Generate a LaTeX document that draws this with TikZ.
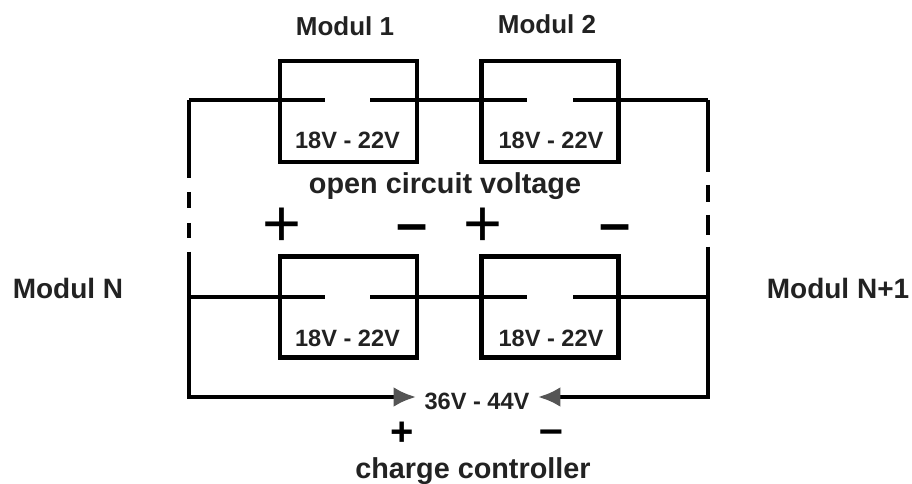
\documentclass[tikz,border=0pt]{standalone}
\usepackage{fontspec}
\setmainfont{Liberation Sans}
\usetikzlibrary{arrows.meta}
\definecolor{inktext}{HTML}{222222}
\definecolor{inkhead}{HTML}{555555}
\tikzset{
  modbox/.style={draw=black, line width=3.5pt, minimum width=102.75pt, minimum height=75.75pt, inner sep=0pt},
  wire/.style={draw=black, line width=3.3pt},
  title/.style={anchor=base, text=inktext, inner sep=0pt, font=\bfseries\fontsize{19.5}{20}\selectfont},
  sidetitle/.style={title, font=\bfseries\fontsize{21}{22}\selectfont},
  volt/.style={anchor=base, text=inktext, inner sep=0pt, font=\bfseries\fontsize{17.7}{18}\selectfont},
  note/.style={anchor=base, text=inktext, inner sep=0pt, font=\bfseries\fontsize{21.6}{22}\selectfont},
  bigsign/.style={anchor=base, text=black, inner sep=0pt, font=\bfseries\fontsize{#1}{#1}\selectfont},
  thinsign/.style={anchor=base, text=black, inner sep=0pt, font=\fontsize{#1}{#1}\selectfont},
  feed/.style={wire, -{Latex[length=17pt, width=15pt, color=inkhead]}}
}
\begin{document}
\begin{tikzpicture}[x=0.75pt, y=-0.75pt]
    \useasboundingbox (0,0) rectangle (912,484);
    % modules
    \node[modbox] (modA) at (348.5,111.5) {};
    \node[modbox] (modB) at (550,111.5) {};
    \node[modbox] (modC) at (348.5,307) {};
    \node[modbox] (modD) at (550,307) {};
    % terminals and corners
    \coordinate (railTL) at (189,100);
    \coordinate (railTR) at (708,100);
    \coordinate (railML) at (189,297);
    \coordinate (railMR) at (708,297);
    \coordinate (railSL) at (189,252);
    \coordinate (railSR) at (708,247);
    \coordinate (railBL) at (189,397);
    \coordinate (railBR) at (708,397);
    \coordinate (topA) at (325,100);
    \coordinate (topB) at (370,100);
    \coordinate (topC) at (527,100);
    \coordinate (topD) at (573,100);
    \coordinate (lowA) at (325,297);
    \coordinate (lowB) at (370,297);
    \coordinate (lowC) at (527,297);
    \coordinate (lowD) at (573,297);
    % labels
    \node[title] (nameA) at (345,36) {Modul 1};
    \node[title] (nameB) at (547,34) {Modul 2};
    \node[sidetitle] (nameC) at (68,298) {Modul N};
    \node[sidetitle] (nameD) at (838,298) {Modul N+1};
    \node[volt] (voltA) at (347.5,149) {18V - 22V};
    \node[volt] (voltB) at (551,149) {18V - 22V};
    \node[volt] (voltC) at (347.5,346) {18V - 22V};
    \node[volt] (voltD) at (551,346) {18V - 22V};
    \node[note] (open) at (445,194) {open circuit voltage};
    \node[note] (charge) at (473,478) {charge controller};
    \node[volt, inner xsep=6pt] (total) at (477,409) {36V - 44V};
    % signs
    \node[thinsign=50] (plusA) at (282,247) {+};
    \node[bigsign=42] (minusA) at (412,243) {–};
    \node[thinsign=50] (plusB) at (483,247) {+};
    \node[bigsign=42] (minusB) at (615,243) {–};
    \node[bigsign=30] (plusC) at (402,445) {+};
    \node[bigsign=32] (minusC) at (551,443.6) {–};
    % top string
    \draw[wire, dash pattern=on 58.5pt off 10.5pt on 12pt off 11.25pt on 11.25pt off 10.5pt] (railTL) -- (railSL);
    \draw[wire, dash pattern=on 54pt off 9.75pt on 12.75pt off 9.75pt on 15pt off 9pt] (railTR) -- (railSR);
    \draw[wire] (railTL) -- (topA);
    \draw[wire] (topB) -- (topC);
    \draw[wire] (topD) -- (railTR);
    % bottom string
    \draw[wire] (railML) -- (lowA);
    \draw[wire] (lowB) -- (lowC);
    \draw[wire] (lowD) -- (railMR);
    % outputs
    \draw[feed] (railSL) -- (railBL) -- (total.west |- railBL);
    \draw[feed] (railSR) -- (railBR) -- (total.east |- railBR);
\end{tikzpicture}
\end{document}
